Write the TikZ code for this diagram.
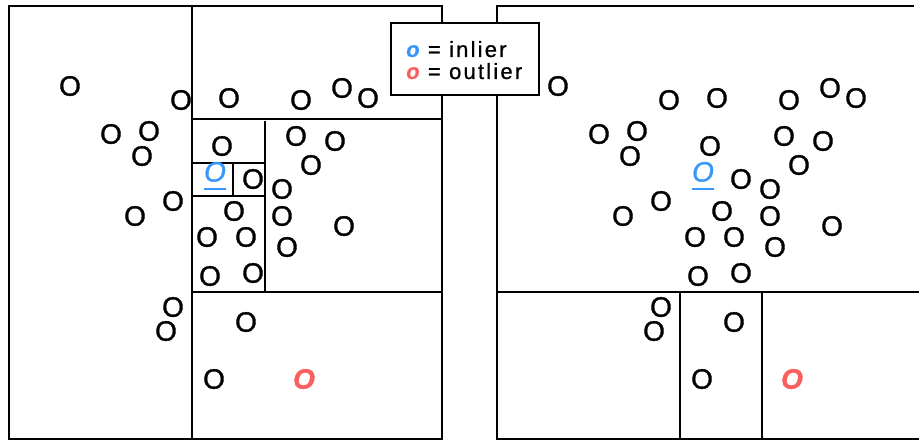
\documentclass[tikz,border=0pt]{standalone}
\usepackage{fontspec}
\setmainfont{Liberation Sans}
\newfontfamily\pointfont[FakeBold=1.2]{Liberation Sans}
\newfontfamily\legendfont[LetterSpace=10,FakeBold=0.8]{Liberation Sans}
\definecolor{inliercol}{RGB}{55,150,250}
\definecolor{outliercol}{RGB}{250,95,95}

% sample positions (left panel); the right panel repeats them shifted by 488pt
\newcommand\samplelist{70/86,181/100,229/98,301/100,342/88,368/98,111/134,149/131,142/156,222/146,296/136,335/141,311/165,253/179,282/189,173/201,135/216,234/211,282/216,344/226,207/237,246/237,287/247,210/276,253/273,173/307,166/331,246/322,214/379}
% underlined italic O for the inlier under test
\newcommand\markedO{\setbox0\hbox{\itshape O}\rlap{\rule[-8.5pt]{\wd0}{1.8pt}}\box0}
% coloured key mark
\newcommand\keymark[1]{{\color{#1}\bfseries\itshape o}}

\begin{document}
\begin{tikzpicture}[x=1pt,y=-1pt,
  frame/.style={line width=2.6pt},
  split/.style={line width=2pt},
  pnt/.style={inner sep=0pt, font=\pointfont\fontsize{28}{28}\selectfont},
  legline/.style={anchor=base west, inner sep=0pt, font=\legendfont\fontsize{22}{24}\selectfont}]
\useasboundingbox (0,0) rectangle (919,441);

% left panel: partitions isolating the inlier
\draw[frame] (9,6) rectangle (442,439);
\draw[frame] (192,6) -- (192,439);
\draw[split] (192,119) -- (442,119);
\draw[split] (192,292) -- (442,292);
\draw[split] (265,121) -- (265,292);
\draw[split] (192,163) -- (265,163);
\draw[split] (192,196) -- (265,196);
\draw[split] (233,163) -- (233,196);

% right panel: partitions isolating the outlier
\draw[frame] (914,6) -- (497,6) -- (497,439) -- (919,439);
\draw[split] (497,292) -- (919,292);
\draw[split] (680,292) -- (680,439);
\draw[split] (762,292) -- (762,439);

% data points
\foreach \panel/\dx in {L/0,R/488}{
  \foreach \px/\py [count=\i] in \samplelist
    \node[pnt] (\panel\i) at (\px+\dx,\py) {O};
  \node[pnt, text=inliercol] (\panel in) at (215+\dx,176) {\markedO};
  \node[pnt, text=outliercol] (\panel out) at (304+\dx,379) {\bfseries\itshape O};
}

% legend
\node[draw, fill=white, line width=2pt, minimum width=148pt, minimum height=72pt, inner sep=0pt] (legend) at (465,59) {};
\node[legline] (leg1) at (406,57) {\keymark{inliercol} = inlier};
\node[legline] (leg2) at (406,79) {\keymark{outliercol} = outlier};
\end{tikzpicture}
\end{document}
